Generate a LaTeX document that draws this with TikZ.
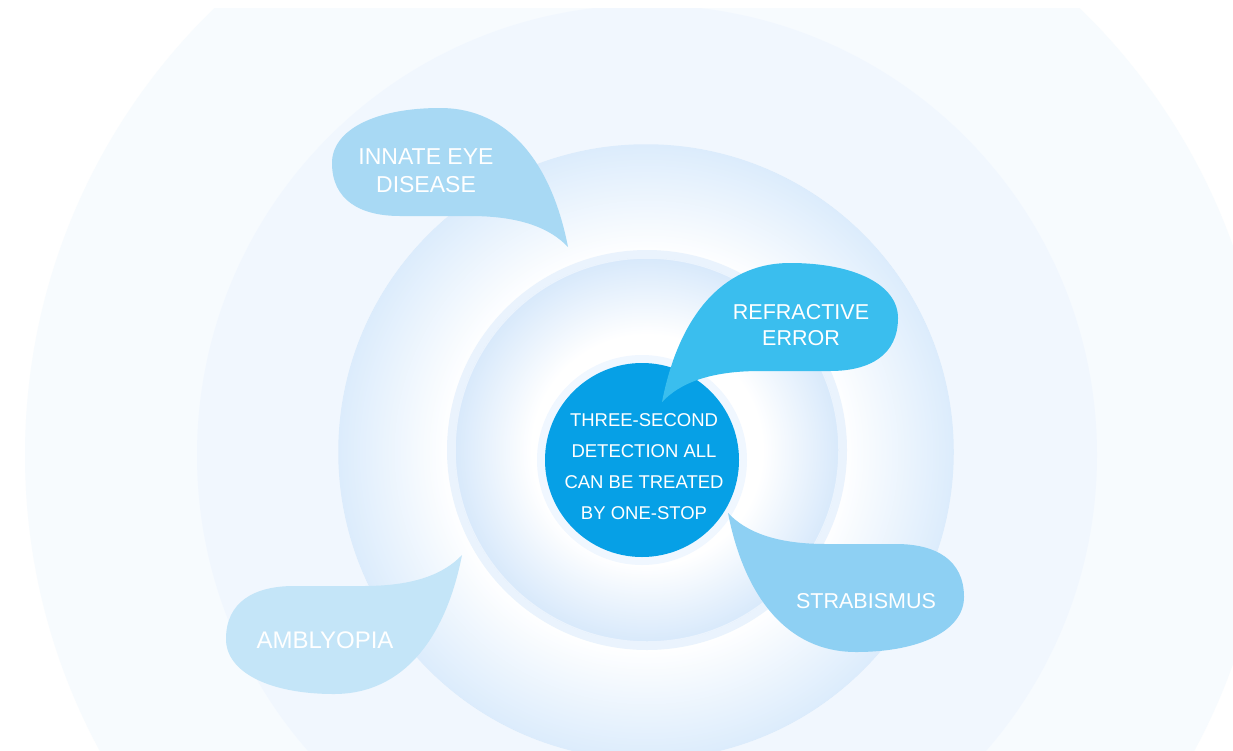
\documentclass[tikz,border=0pt]{standalone}
\usepackage{fontspec}
\setmainfont{Liberation Sans}
\usetikzlibrary{positioning}

\definecolor{hubblue}{RGB}{6,160,230}
\definecolor{innate}{RGB}{168,217,244}
\definecolor{refract}{RGB}{58,190,238}
\definecolor{strab}{RGB}{142,208,243}
\definecolor{amblyo}{RGB}{196,229,248}
\definecolor{ringA}{RGB}{247,251,254}
\definecolor{ringB}{RGB}{241,247,254}
\definecolor{ringC}{RGB}{220,236,252}
\definecolor{ringD}{RGB}{234,243,253}
\definecolor{irisblue}{RGB}{216,233,251}
\definecolor{halo}{RGB}{240,247,255}

\pgfdeclareradialshading{ringfade}{\pgfpoint{0bp}{0bp}}{color(0bp)=(white); color(16bp)=(white); color(25bp)=(ringC); color(50bp)=(ringC)}
\pgfdeclareradialshading{irisfade}{\pgfpoint{0bp}{0bp}}{color(0bp)=(white); color(15bp)=(white); color(25bp)=(irisblue); color(50bp)=(irisblue)}

% one speech drop, tip at the origin
\newcommand{\droplet}{(0,0) .. controls (-16,-82) and (-58,-139) .. (-128,-139) .. controls (-193,-139) and (-236,-117) .. (-236,-84) .. controls (-236,-47) and (-208,-31) .. (-168,-31) -- (-98,-31) .. controls (-48,-31) and (-18,-19) .. (0,0) -- cycle}

\begin{document}
\begin{tikzpicture}[x=1pt,y=-1pt,
    hub/.style={circle,fill=hubblue,minimum size=194pt,inner sep=0pt},
    tag/.style={text=white,align=center,inner sep=0pt}]
  \useasboundingbox (0,0) rectangle (1233,750);
  \fill[white] (0,0) rectangle (1233,750);

  \begin{scope}
    \clip (0,8) rectangle (1233,750);
    \fill[ringA] (647,455) circle (622pt);
    \fill[ringB] (647,455) circle (450pt);
    \fill[shading=ringfade] (646,452) circle (307pt);
    \draw[ringC,line width=1.5pt] (646,452) circle (307pt);
    \fill[ringD] (647,450) circle (200pt);
    \fill[shading=irisfade] (647,450) circle (192pt);
    \draw[ringD,line width=1.5pt] (647,450) circle (192pt);
  \end{scope}

  \fill[halo] (642,460) circle (105pt);
  \node[hub] (hub) at (642,460) {};

  \begin{scope}[shift={(568,247)}]
    \fill[innate] \droplet;
  \end{scope}
  \begin{scope}[shift={(662,402)},xscale=-1]
    \fill[refract] \droplet;
  \end{scope}
  \begin{scope}[shift={(728,513)},rotate=180]
    \fill[strab] \droplet;
  \end{scope}
  \begin{scope}[shift={(462,555)},yscale=-1]
    \fill[amblyo] \droplet;
  \end{scope}

  \node[tag,font=\fontsize{18.5}{31}\selectfont] (hubtext) at (644,467) {THREE-SECOND\\DETECTION ALL\\CAN BE TREATED\\BY ONE-STOP};
  \node[tag,font=\fontsize{23}{28}\selectfont] (innatetext) at (426,171) {INNATE EYE\\DISEASE};
  \node[tag,font=\fontsize{21.5}{26}\selectfont] (refracttext) at (801,325) {REFRACTIVE\\ERROR};
  \node[tag,font=\fontsize{21.5}{26}\selectfont] (strabtext) at (866,601) {STRABISMUS};
  \node[tag,font=\fontsize{24}{28}\selectfont] (amblyotext) at (325,640) {AMBLYOPIA};
\end{tikzpicture}
\end{document}
